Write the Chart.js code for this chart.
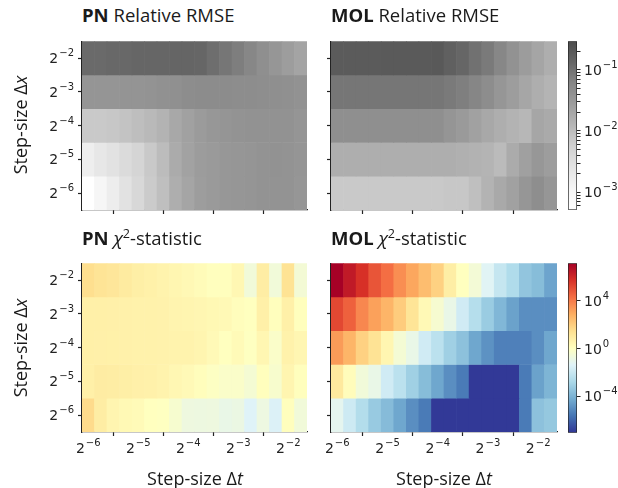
<!DOCTYPE html>
<html>
<head>
<meta charset="utf-8">
<script src="https://cdn.jsdelivr.net/npm/chart.js@4.4.1/dist/chart.umd.min.js"></script>
<style>
  body { margin: 0; background: #fff; }
  #wrap { position: relative; width: 618px; height: 488px; overflow: hidden;
          font-family: 'Open Sans', 'Noto Sans', sans-serif; color: #1a1a1a; }
  #wrap canvas { position: absolute; }
  .txt { position: absolute; white-space: nowrap; }
  .ttl { font-size: 18.5px; line-height: 24px; }
  .lab { font-size: 18px; line-height: 24px; }
  .txt sup { font-size: 0.68em; line-height: 0; }
  .ylab { transform: translate(-50%, -50%) rotate(-90deg); }
  .xlab { transform: translate(-50%, -50%); }
</style>
</head>
<body>
<div id="wrap">
  <canvas id="pnRmseChart"></canvas>
  <canvas id="molRmseChart"></canvas>
  <canvas id="pnChiChart"></canvas>
  <canvas id="molChiChart"></canvas>
  <canvas id="rmseBar"></canvas>
  <canvas id="chiBar"></canvas>

  <div class="txt ttl" style="left:82px;top:3px"><b>PN</b> Relative RMSE</div>
  <div class="txt ttl" style="left:331px;top:3px"><b>MOL</b> Relative RMSE</div>
  <div class="txt ttl" style="left:82px;top:226px"><b>PN</b> <i>χ</i><sup>2</sup>-statistic</div>
  <div class="txt ttl" style="left:331px;top:226px"><b>MOL</b> <i>χ</i><sup>2</sup>-statistic</div>
  <div class="txt lab ylab" style="left:20px;top:125px">Step-size Δ<i>x</i></div>
  <div class="txt lab ylab" style="left:20px;top:348px">Step-size Δ<i>x</i></div>
  <div class="txt lab xlab" style="left:195px;top:478px">Step-size Δ<i>t</i></div>
  <div class="txt lab xlab" style="left:444px;top:478px">Step-size Δ<i>t</i></div>
</div>
<script>
// columns: log2 of time step, rows: log2 of space step (top row first)
const dtExp = [-6, -5.75, -5.5, -5.25, -5, -4.75, -4.5, -4.25, -4, -3.75, -3.5, -3.25, -3, -2.75, -2.5, -2.25, -2, -1.75];
const dxExp = [-2, -3, -4, -5, -6];
const axisTicks = [-6, -5, -4, -3, -2];

// relative RMSE, PN solver
const pnRmse = [
  [0.12, 0.12, 0.125, 0.125, 0.13, 0.13, 0.13, 0.135, 0.135, 0.13, 0.107, 0.089, 0.073, 0.057, 0.044, 0.034, 0.027, 0.022],
  [0.036, 0.036, 0.036, 0.037, 0.037, 0.038, 0.041, 0.042, 0.047, 0.048, 0.048, 0.048, 0.047, 0.047, 0.046, 0.044, 0.043, 0.039],
  [0.0070, 0.0070, 0.0074, 0.0083, 0.0097, 0.0112, 0.0137, 0.019, 0.024, 0.029, 0.033, 0.036, 0.038, 0.039, 0.039, 0.040, 0.039, 0.036],
  [0.0016, 0.0022, 0.0027, 0.0037, 0.0048, 0.0070, 0.0103, 0.0175, 0.023, 0.028, 0.030, 0.033, 0.035, 0.036, 0.038, 0.039, 0.038, 0.036],
  [0.00052, 0.00105, 0.0017, 0.0028, 0.0042, 0.0066, 0.0094, 0.016, 0.021, 0.027, 0.030, 0.033, 0.035, 0.036, 0.038, 0.038, 0.038, 0.035]
];
// relative RMSE, MOL solver
const molRmse = [
  [0.186, 0.186, 0.186, 0.186, 0.19, 0.19, 0.19, 0.195, 0.20, 0.16, 0.13, 0.10, 0.080, 0.057, 0.040, 0.028, 0.021, 0.016],
  [0.089, 0.089, 0.089, 0.089, 0.089, 0.089, 0.089, 0.089, 0.089, 0.081, 0.071, 0.059, 0.047, 0.035, 0.027, 0.0205, 0.016, 0.013],
  [0.044, 0.044, 0.044, 0.044, 0.044, 0.044, 0.044, 0.044, 0.044, 0.036, 0.030, 0.024, 0.019, 0.016, 0.0137, 0.0119, 0.0205, 0.0178],
  [0.016, 0.016, 0.016, 0.016, 0.016, 0.016, 0.016, 0.016, 0.016, 0.016, 0.015, 0.014, 0.013, 0.0106, 0.0175, 0.025, 0.033, 0.027],
  [0.0070, 0.0070, 0.0070, 0.0070, 0.0070, 0.0070, 0.0070, 0.0070, 0.0070, 0.0074, 0.0074, 0.0094, 0.0135, 0.0187, 0.024, 0.034, 0.045, 0.035]
];
// chi-squared statistic, PN solver
const pnChi2 = [
  [32, 19, 15, 9.5, 6.3, 5.1, 3.9, 3.0, 2.3, 1.7, 1.2, 1.3, 2.5, 0.25, 7.1, 0.25, 22, 0.32],
  [5.6, 5.6, 5.2, 4.8, 4.6, 4.4, 4.2, 3.5, 3.2, 2.8, 2.4, 2.1, 1.4, 1.1, 5.6, 1.3, 5.6, 1.3],
  [5.6, 5.2, 5.0, 4.8, 4.6, 4.5, 4.2, 4.0, 3.8, 3.2, 2.0, 1.1, 1.8, 1.0, 2.8, 0.63, 4.5, 2.8],
  [5.6, 7.9, 7.1, 6.3, 5.2, 4.8, 4.0, 2.5, 2.0, 1.4, 0.89, 0.63, 0.63, 0.35, 1.26, 0.5, 3.2, 1.26],
  [40, 7.1, 3.2, 2.2, 1.8, 1.1, 1.0, 0.44, 0.18, 0.17, 0.18, 0.11, 0.14, 0.04, 0.16, 0.032, 1.26, 0.25]
];
// chi-squared statistic, MOL solver
const molChi2 = [
  [1.4e7, 2.4e6, 5.5e5, 7.6e4, 2.0e4, 4.0e3, 1.1e3, 290, 79, 6.8, 1.1, 0.30, 0.049, 8.1e-3, 2.2e-3, 3.6e-4, 1.9e-4, 3.6e-5],
  [1.5e5, 4.0e4, 5.6e3, 1.5e3, 480, 110, 18, 2.1, 0.42, 0.11, 0.016, 3.0e-3, 5.9e-4, 1.3e-4, 3.2e-5, 1.0e-5, 1.0e-5, 1.0e-5],
  [2.0e3, 480, 79, 21, 3.0, 0.33, 0.11, 0.016, 4.3e-3, 8.3e-4, 2.6e-4, 4.3e-5, 1.2e-5, 4.4e-6, 4.4e-6, 4.4e-6, 1.0e-5, 4.3e-5],
  [11, 1.5, 0.25, 0.11, 0.016, 4.3e-3, 8.3e-4, 1.9e-4, 4.3e-5, 1.0e-5, 3.2e-6, 1e-7, 1e-7, 1e-7, 1e-7, 3.2e-6, 3.2e-5, 1.1e-4],
  [0.069, 0.013, 2.6e-3, 5.0e-4, 1.7e-4, 4.3e-5, 1.0e-5, 3.2e-6, 1e-7, 1e-7, 1e-7, 1e-7, 1e-7, 1e-7, 1e-7, 3.2e-6, 2.6e-4, 4.3e-4]
];

// colour scale limits and colorbar ticks
const rmseRange = [5.2e-4, 0.29];
const chiRange = [8.5e-8, 1.45e7];
const rmseTicks = [6e-4, 7e-4, 8e-4, 9e-4, 1e-3, 2e-3, 3e-3, 4e-3, 5e-3, 6e-3, 7e-3, 8e-3, 9e-3,
                   1e-2, 2e-2, 3e-2, 4e-2, 5e-2, 6e-2, 7e-2, 8e-2, 9e-2, 1e-1, 2e-1];
const chiTicks = [1e-4, 1, 1e4];

const greys = ['#ffffff', '#f5f5f5', '#e4e4e4', '#d1d1d1', '#b6b6b6', '#9d9d9d', '#868686', '#666666', '#4d4d4d'];
const rdylbuR = ['#313695', '#4575b4', '#74add1', '#abd9e9', '#e0f3f8', '#ffffbf', '#fee090', '#fdae61', '#f46d43', '#d73027', '#a50026'];

const ink = '#222';
const baseFont = "14px 'DejaVu Sans', sans-serif";
const expFont = "10px 'DejaVu Sans', sans-serif";

function hexRgb(h) {
  return [1, 3, 5].map(i => parseInt(h.slice(i, i + 2), 16));
}

function colorFor(v, range, stops) {
  const lo = Math.log10(range[0]), hi = Math.log10(range[1]);
  let t = (Math.log10(v) - lo) / (hi - lo);
  t = Math.min(1, Math.max(0, t));
  const p = t * (stops.length - 1);
  const i = Math.min(stops.length - 2, Math.floor(p));
  const f = p - i;
  const a = hexRgb(stops[i]), b = hexRgb(stops[i + 1]);
  const c = a.map((x, k) => Math.round(x + (b[k] - x) * f));
  return `rgb(${c[0]},${c[1]},${c[2]})`;
}

// tick labels like 2^-6 / 10^4, written as base + raised exponent
function drawPower(ctx, base, exp, x, y, align) {
  const e = String(exp).replace('-', '\u2212');
  ctx.save();
  ctx.fillStyle = ink;
  ctx.textAlign = 'left';
  ctx.textBaseline = 'alphabetic';
  ctx.font = baseFont;
  const wb = ctx.measureText(base).width;
  ctx.font = expFont;
  const we = ctx.measureText(e).width;
  const total = wb + 1 + we;
  const x0 = align === 'center' ? x - total / 2 : align === 'right' ? x - total : x;
  ctx.font = baseFont;
  ctx.fillText(base, x0, y);
  ctx.font = expFont;
  ctx.fillText(e, x0 + wb + 1, y - 7);
  ctx.restore();
}

const powerLabels = {
  id: 'powerLabels',
  afterDraw(chart, args, opts) {
    const ctx = chart.ctx;
    const area = chart.chartArea;
    (opts.axes || []).forEach(ax => {
      const s = chart.scales[ax.id];
      s.ticks.forEach((t, i) => {
        const exp = ax.exponent(t.value);
        if (exp === null) return;
        const p = s.getPixelForTick(i);
        if (ax.side === 'left') drawPower(ctx, ax.base, exp, area.left - 8, p + 5, 'right');
        else if (ax.side === 'right') drawPower(ctx, ax.base, exp, area.right + 7, p + 5, 'left');
        else drawPower(ctx, ax.base, exp, p, area.bottom + 21, 'center');
      });
    });
  }
};

const log2Exp = v => v;
const log10Exp = v => {
  const e = Math.log10(v);
  return Math.abs(e - Math.round(e)) < 1e-6 ? Math.round(e) : null;
};

function place(id, left, top, w, h) {
  const c = document.getElementById(id);
  c.width = w; c.height = h;
  c.style.left = left + 'px';
  c.style.top = top + 'px';
  return c;
}

function heatmap(id, box, rows, range, stops, showX, showY) {
  const canvas = place(id, box.L - 60, box.T - 10, box.W + 70, box.H + 50);
  const datasets = rows.map((vals, r) => ({
    data: vals.map((v, c) => ({ x: dtExp[c], y: [dxExp[r] - 0.5, dxExp[r] + 0.5] })),
    backgroundColor: vals.map(v => colorFor(v, range, stops)),
    borderWidth: 0,
    grouped: false,
    barPercentage: 1,
    categoryPercentage: 1
  }));
  const axisStyle = {
    border: { display: true, color: ink, width: 1.3 },
    grid: { drawOnChartArea: false, drawTicks: true, tickLength: 4, color: ink, tickWidth: 1.2 }
  };
  const labelAxes = [];
  if (showX) labelAxes.push({ id: 'x', side: 'bottom', base: '2', exponent: log2Exp });
  if (showY) labelAxes.push({ id: 'y', side: 'left', base: '2', exponent: log2Exp });
  return new Chart(canvas, {
    type: 'bar',
    data: { datasets },
    plugins: [powerLabels],
    options: {
      responsive: false,
      animation: false,
      layout: { padding: { top: 10, right: 10, left: 0, bottom: 0 } },
      plugins: { legend: { display: false }, tooltip: { enabled: false }, powerLabels: { axes: labelAxes } },
      scales: {
        x: {
          type: 'linear', min: -6.125, max: -1.625, offset: false,
          ...axisStyle,
          afterBuildTicks: s => { s.ticks = axisTicks.map(v => ({ value: v })); },
          afterFit: s => { s.height = 40; },
          ticks: { callback: () => '', autoSkip: false, maxRotation: 0 }
        },
        y: {
          type: 'linear', min: -6.5, max: -1.5,
          ...axisStyle,
          afterBuildTicks: s => { s.ticks = axisTicks.map(v => ({ value: v })); },
          afterFit: s => { s.width = 60; },
          ticks: { callback: () => '', autoSkip: false }
        }
      }
    }
  });
}

function gradientFill(chart, stops) {
  const a = chart.chartArea;
  if (!a) return stops[0];
  const g = chart.ctx.createLinearGradient(0, a.bottom, 0, a.top);
  stops.forEach((c, i) => g.addColorStop(i / (stops.length - 1), c));
  return g;
}

function colorbar(id, box, range, stops, tickValues) {
  const canvas = place(id, box.L - 10, box.T - 10, box.W + 60, box.H + 20);
  return new Chart(canvas, {
    type: 'bar',
    data: {
      labels: [''],
      datasets: [{
        data: [[range[0], range[1]]],
        backgroundColor: ctx => gradientFill(ctx.chart, stops),
        borderColor: ink, borderWidth: 1, borderSkipped: false,
        barPercentage: 1, categoryPercentage: 1
      }]
    },
    plugins: [powerLabels],
    options: {
      responsive: false,
      animation: false,
      layout: { padding: { left: 10, top: 10, bottom: 10, right: 0 } },
      plugins: {
        legend: { display: false }, tooltip: { enabled: false },
        powerLabels: { axes: [{ id: 'y', side: 'right', base: '10', exponent: log10Exp }] }
      },
      scales: {
        x: { display: false },
        y: {
          type: 'logarithmic', position: 'right', min: range[0], max: range[1],
          border: { display: false },
          grid: { drawOnChartArea: false, drawTicks: true, tickLength: 3.5, color: ink, tickWidth: 1 },
          afterBuildTicks: s => { s.ticks = tickValues.map(v => ({ value: v })); },
          afterFit: s => { s.width = 50; },
          ticks: { autoSkip: false, callback: () => '' }
        }
      }
    }
  });
}

heatmap('pnRmseChart', { L: 82, T: 41, W: 225, H: 169 }, pnRmse, rmseRange, greys, false, true);
heatmap('molRmseChart', { L: 331, T: 41, W: 226, H: 169 }, molRmse, rmseRange, greys, false, false);
heatmap('pnChiChart', { L: 82, T: 263, W: 225, H: 169 }, pnChi2, chiRange, rdylbuR, true, true);
heatmap('molChiChart', { L: 331, T: 263, W: 226, H: 169 }, molChi2, chiRange, rdylbuR, true, false);
colorbar('rmseBar', { L: 568, T: 41, W: 9, H: 169 }, rmseRange, greys, rmseTicks);
colorbar('chiBar', { L: 568, T: 263, W: 9, H: 170 }, chiRange, rdylbuR, chiTicks);
</script>
</body>
</html>
